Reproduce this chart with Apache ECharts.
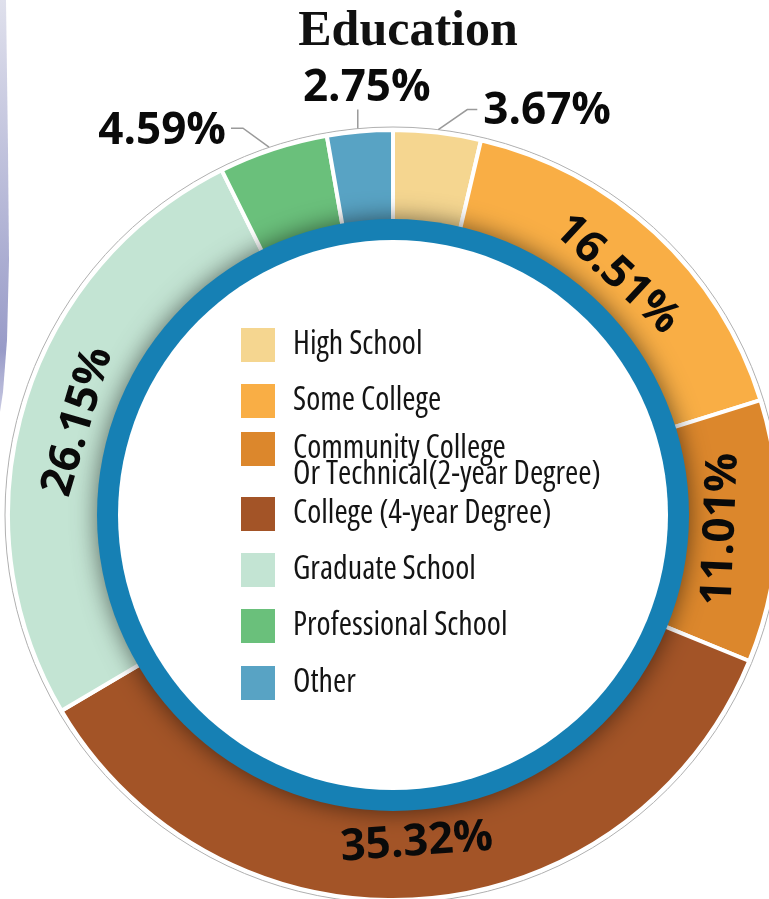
<!DOCTYPE html>
<html>
<head>
<meta charset="utf-8">
<script src="https://cdn.jsdelivr.net/npm/echarts@6/dist/echarts.min.js"></script>
<style>
  html, body { margin: 0; padding: 0; background: #ffffff; }
  #chart { width: 769px; height: 899px; }
</style>
</head>
<body>
<div id="chart"></div>
<script>
// Education breakdown (percent of respondents)
const categories = [
  'High School',
  'Some College',
  'Community College\nOr Technical(2-year Degree)',
  'College (4-year Degree)',
  'Graduate School',
  'Professional School',
  'Other'
];
const shares = [3.67, 16.51, 11.01, 35.32, 26.15, 4.59, 2.75];
const sliceColors = ['#F5D690', '#F9AE45', '#DC872C', '#A35427', '#C3E4D3', '#6AC07B', '#58A3C4'];

// small slices get their labels outside, with an elbow leader line
const outsideSlices = ['High School', 'Professional School', 'Other'];
// leader geometry, relative to the slice's outer edge point
const leaders = {
  'High School':         { start: [1, -3],  elbow: [30, -23],  end: [40, -23],  label: [46, -21],  align: 'left' },
  'Professional School': { start: [-4, -2], elbow: [-30, -21], end: [-42, -21], label: [-47, -18], align: 'right' },
  'Other':               { start: [-2, -3], elbow: [-2, -22],  end: [-2, -22],  label: [7, -43],   align: 'center' }
};

// legend rows: vertical centre of each swatch
const legendRowCenters = [345, 401, 446, 514, 570, 626, 683];

const CENTER = [393, 515];
const labelFont = "'Open Sans', 'Noto Sans', sans-serif";
const legendFont = "'Open Sans', 'Roboto Condensed', sans-serif";

const pieData = categories.map((name, i) => {
  const item = { name: name, value: shares[i], itemStyle: { color: sliceColors[i] } };
  if (outsideSlices.indexOf(name) >= 0) {
    item.label = { position: 'outside', rotate: 0 };
    item.labelLine = { show: true };
  }
  return item;
});

// one legend block per row so the two-line entry keeps its swatch on the first line
const legends = categories.map((name, i) => {
  const twoLine = name.indexOf('\n') >= 0;
  return {
    data: [name],
    orient: 'vertical',
    left: 241,
    top: twoLine ? legendRowCenters[i] - 39 : legendRowCenters[i] - 17,
    padding: 0,
    z: 10,
    icon: 'rect',
    itemWidth: 34,
    itemHeight: 34,
    selectedMode: false,
    itemStyle: { borderWidth: 0 },
    formatter: n => (n.indexOf('\n') >= 0 ? '\n' + n : n),
    textStyle: {
      fontFamily: legendFont,
      fontStyle: 'normal',
      fontWeight: 'normal condensed',
      fontSize: 32,
      lineHeight: 26,
      color: '#141414',
      padding: [0, 0, 0, 13]
    }
  };
});

const chart = echarts.init(document.getElementById('chart'), null, { renderer: 'canvas' });

chart.setOption({
  backgroundColor: '#ffffff',
  animation: false,
  title: {
    text: 'Education',
    left: 403,
    top: 2,
    textAlign: 'center',
    textStyle: {
      fontFamily: "'Liberation Serif', 'DejaVu Serif', serif",
      fontWeight: 'bold',
      fontSize: 50,
      color: '#111111'
    }
  },
  legend: legends,
  graphic: [{
    // soft lavender strip along the left edge
    type: 'polygon',
    silent: true,
    shape: { points: [[0, 0], [6, 0], [8, 150], [9, 260], [7, 340], [3, 392], [0, 412]] },
    style: {
      fill: {
        type: 'linear', x: 0, y: 0, x2: 0, y2: 1,
        colorStops: [
          { offset: 0, color: '#dfe0ec' },
          { offset: 0.55, color: '#b2b4d5' },
          { offset: 0.85, color: '#989bc8' },
          { offset: 1, color: '#c9cae2' }
        ]
      }
    }
  }],
  series: [
    {
      // thin grey rim around the ring
      type: 'pie',
      silent: true,
      z: 1,
      center: CENTER,
      radius: [0, 388],
      label: { show: false },
      labelLine: { show: false },
      emphasis: { disabled: true },
      itemStyle: { color: 'rgba(0,0,0,0)', borderColor: '#b0b0b0', borderWidth: 1 },
      data: [{ value: 1, name: 'rim' }]
    },
    {
      type: 'pie',
      name: 'Education',
      z: 2,
      center: CENTER,
      radius: [266, 385],
      startAngle: 90,
      clockwise: true,
      avoidLabelOverlap: false,
      emphasis: { disabled: true },
      itemStyle: { borderColor: '#ffffff', borderWidth: 4 },
      label: {
        show: true,
        position: 'inside',
        rotate: 'tangential',
        formatter: p => p.value.toFixed(2) + '%',
        fontFamily: labelFont,
        fontWeight: 'bold',
        fontSize: 44,
        color: '#0a0a0a'
      },
      labelLine: { show: false, lineStyle: { color: '#9a9a9a', width: 1.5 } },
      labelLayout: function (params) {
        const name = categories[params.dataIndex];
        const cfg = leaders[name];
        if (!cfg || !params.labelLinePoints) return {};
        const p0 = params.labelLinePoints[0];
        const at = off => [p0[0] + off[0], p0[1] + off[1]];
        return {
          x: at(cfg.label)[0],
          y: at(cfg.label)[1],
          align: cfg.align,
          verticalAlign: 'middle',
          labelLinePoints: [at(cfg.start), at(cfg.elbow), at(cfg.end)]
        };
      },
      data: pieData
    },
    {
      // blue band, casting a soft shadow onto the ring
      type: 'pie',
      silent: true,
      z: 3,
      center: CENTER,
      radius: [0, 296],
      label: { show: false },
      labelLine: { show: false },
      emphasis: { disabled: true },
      itemStyle: {
        color: '#1680B4',
        shadowBlur: 24,
        shadowColor: 'rgba(0,0,0,0.55)'
      },
      data: [{ value: 1, name: 'band' }]
    },
    {
      // white centre holding the legend
      type: 'pie',
      silent: true,
      z: 4,
      center: CENTER,
      radius: [0, 275],
      label: { show: false },
      labelLine: { show: false },
      emphasis: { disabled: true },
      itemStyle: { color: '#ffffff' },
      data: [{ value: 1, name: 'centre' }]
    }
  ]
});
</script>
</body>
</html>
